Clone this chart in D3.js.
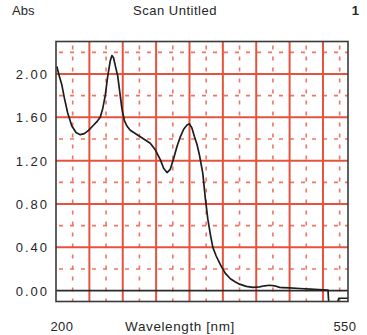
<!DOCTYPE html>
<html>
<head>
<meta charset="utf-8">
<script src="https://cdn.jsdelivr.net/npm/d3@7"></script>
<style>
  html, body { margin: 0; padding: 0; background: #fff; }
  svg { display: block; }
  text { font-family: "Liberation Sans", Arial, sans-serif; fill: #262626; }
</style>
</head>
<body>
<svg id="chart" width="367" height="335"></svg>
<script>
// Absorbance scan: wavelength (nm) vs absorbance
const wavelength = [201, 204, 207, 210, 214, 219, 224, 229, 234, 239, 244, 249, 253, 256, 259, 262, 265, 267, 269, 271,
  274, 277, 279, 282, 285, 289, 295, 301, 307, 313, 319, 325, 329, 333, 337, 341, 345, 349, 353, 357,
  360, 363, 366, 369, 372, 376, 379, 382, 385, 388, 392, 397, 403, 409, 415, 420, 428, 436, 444, 450,
  456, 462, 468, 472, 480, 492, 505, 515, 526, 527, 537, 539, 550];
const absorbance = [2.07, 1.98, 1.90, 1.78, 1.64, 1.52, 1.46, 1.44, 1.45, 1.48, 1.52, 1.56, 1.60, 1.68, 1.80, 1.98, 2.12, 2.17, 2.15, 2.08,
  1.98, 1.80, 1.68, 1.57, 1.52, 1.48, 1.45, 1.42, 1.39, 1.36, 1.30, 1.21, 1.13, 1.09, 1.12, 1.22, 1.33, 1.42, 1.49, 1.53,
  1.54, 1.50, 1.42, 1.35, 1.25, 1.08, 0.85, 0.66, 0.52, 0.40, 0.32, 0.24, 0.16, 0.11, 0.08, 0.06, 0.04, 0.03, 0.035, 0.045,
  0.05, 0.045, 0.03, 0.028, 0.025, 0.02, 0.015, 0.01, 0.005, -0.12, -0.12, -0.07, -0.07];

const xDomain = [200, 550];
const yDomain = [-0.1, 2.3];
const xMajor = [240, 280, 320, 360, 400, 440, 480, 520];
const xMinor = [220, 260, 300, 340, 380, 420, 460, 500, 540];
const yMajor = [0.4, 0.8, 1.2, 1.6, 2.0];
const yMinor = [0.2, 0.6, 1.0, 1.4, 1.8, 2.2];
const yTickLabels = ["0.00", "0.40", "0.80", "1.20", "1.60", "2.00"];
const yTickValues = [0, 0.4, 0.8, 1.2, 1.6, 2.0];
const xEndLabels = ["200", "550"];

const svg = d3.select("#chart");
const plotL = 56, plotR = 348, plotT = 41.5, plotB = 301.5;

const x = d3.scaleLinear().domain(xDomain).range([plotL, plotR]);
const y = d3.scaleLinear().domain(yDomain).range([plotB, plotT]);

svg.append("defs").append("clipPath").attr("id", "plotClip")
  .append("rect").attr("x", plotL).attr("y", plotT).attr("width", plotR - plotL).attr("height", plotB - plotT);

const grid = svg.append("g");
const minorColor = "#ee7565", majorColor = "#e5533f";

// minor dashed grid
grid.selectAll("line.vminor").data(xMinor).join("line")
  .attr("x1", d => x(d)).attr("x2", d => x(d)).attr("y1", plotT).attr("y2", plotB)
  .attr("stroke", minorColor).attr("stroke-width", 1.6)
  .attr("stroke-dasharray", "4,7").attr("stroke-dashoffset", -4);
grid.selectAll("line.hminor").data(yMinor).join("line")
  .attr("x1", plotL).attr("x2", plotR).attr("y1", d => y(d)).attr("y2", d => y(d))
  .attr("stroke", minorColor).attr("stroke-width", 1.6)
  .attr("stroke-dasharray", "4,7").attr("stroke-dashoffset", -3);

// major grid
grid.selectAll("line.vmajor").data(xMajor).join("line")
  .attr("x1", d => x(d)).attr("x2", d => x(d)).attr("y1", plotT).attr("y2", plotB)
  .attr("stroke", majorColor).attr("stroke-width", 2);
grid.selectAll("line.hmajor").data(yMajor).join("line")
  .attr("x1", plotL).attr("x2", plotR).attr("y1", d => y(d)).attr("y2", d => y(d))
  .attr("stroke", majorColor).attr("stroke-width", 2);

// zero baseline
svg.append("line")
  .attr("x1", plotL).attr("x2", plotR).attr("y1", y(0)).attr("y2", y(0))
  .attr("stroke", "#2a2a2a").attr("stroke-width", 1.8);

// spectrum trace
const line = d3.line().x((d, i) => x(wavelength[i])).y(d => y(d)).curve(d3.curveLinear);
svg.append("path")
  .datum(absorbance)
  .attr("clip-path", "url(#plotClip)")
  .attr("d", line)
  .attr("fill", "none").attr("stroke", "#1e1e1e").attr("stroke-width", 1.7)
  .attr("stroke-linejoin", "round");

// frame
svg.append("rect")
  .attr("x", plotL).attr("y", plotT).attr("width", plotR - plotL).attr("height", plotB - plotT)
  .attr("fill", "none").attr("stroke", "#3a3a3a").attr("stroke-width", 1.6);

// y tick labels
svg.selectAll("text.ylab").data(yTickValues).join("text")
  .attr("x", 49).attr("y", d => y(d) + 5)
  .attr("text-anchor", "end").attr("font-size", 13).attr("letter-spacing", 2)
  .text((d, i) => yTickLabels[i]);

// x end labels
svg.append("text").attr("x", 62).attr("y", 331).attr("text-anchor", "middle").attr("font-size", 13).attr("letter-spacing", 0.5).text(xEndLabels[0]);
svg.append("text").attr("x", 345).attr("y", 331).attr("text-anchor", "middle").attr("font-size", 13).attr("letter-spacing", 0.5).text(xEndLabels[1]);

// axis title and header texts
svg.append("text").attr("x", 180).attr("y", 331).attr("text-anchor", "middle").attr("font-size", 13.5).attr("letter-spacing", 0.6).text("Wavelength [nm]");
svg.append("text").attr("x", 12).attr("y", 15).attr("font-size", 13).text("Abs");
svg.append("text").attr("x", 175).attr("y", 15).attr("text-anchor", "middle").attr("font-size", 13).attr("letter-spacing", 0.5).text("Scan Untitled");
svg.append("text").attr("x", 359).attr("y", 15).attr("text-anchor", "end").attr("font-size", 13).attr("font-weight", "bold").text("1");
</script>
</body>
</html>
